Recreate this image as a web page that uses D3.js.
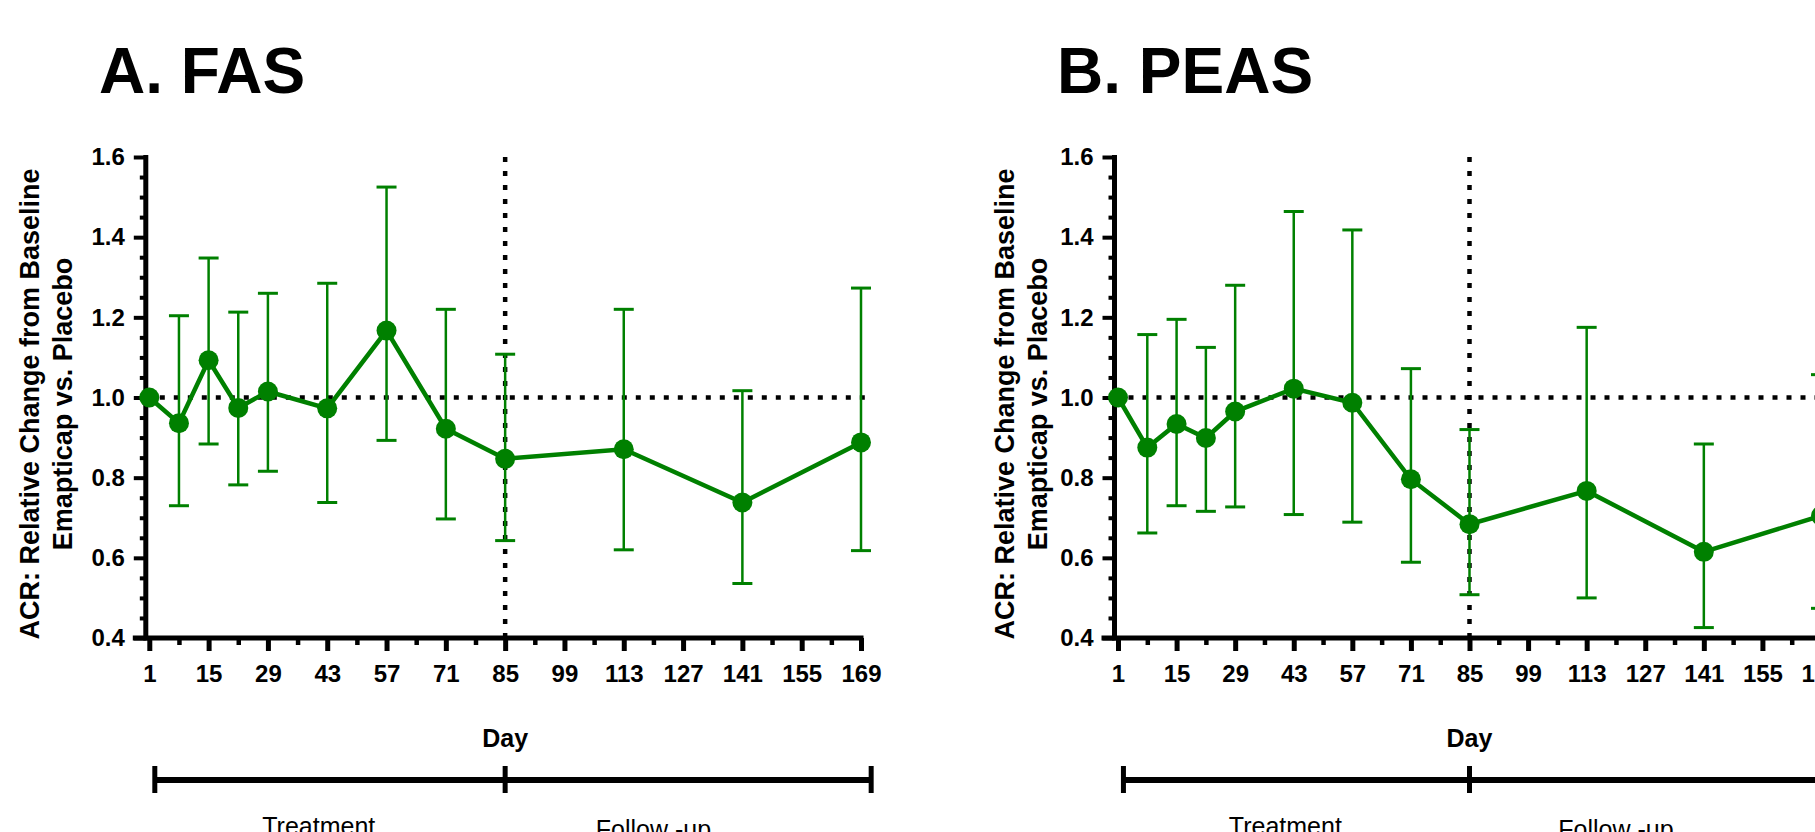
<!DOCTYPE html>
<html>
<head>
<meta charset="utf-8">
<script src="https://cdn.jsdelivr.net/npm/d3@7"></script>
<style>
body { margin: 0; background: #fff; }
svg { display: block; font-family: "Liberation Sans", Arial, sans-serif; }
</style>
</head>
<body>
<svg id="chart" width="1815" height="832"></svg>
<script>
// Study days where ACR was measured
var days = [1, 8, 15, 22, 29, 43, 57, 71, 85, 113, 141, 169];

// A. FAS - ratio emapticap vs placebo, with 95% CI
var fasMean  = [1.000, 0.936, 1.093, 0.974, 1.015, 0.973, 1.167, 0.922, 0.847, 0.871, 0.738, 0.888];
var fasLower = [null,  0.730, 0.884, 0.782, 0.816, 0.738, 0.893, 0.697, 0.643, 0.620, 0.536, 0.618];
var fasUpper = [null,  1.204, 1.348, 1.213, 1.260, 1.285, 1.525, 1.220, 1.108, 1.220, 1.017, 1.273];

// B. PEAS
var peasMean  = [1.000, 0.875, 0.934, 0.899, 0.965, 1.022, 0.987, 0.796, 0.684, 0.767, 0.615, 0.705];
var peasLower = [null,  0.662, 0.730, 0.716, 0.727, 0.708, 0.689, 0.589, 0.508, 0.500, 0.426, 0.474];
var peasUpper = [null,  1.157, 1.195, 1.125, 1.280, 1.464, 1.418, 1.072, 0.920, 1.175, 0.884, 1.057];

// Axis ticks
var dayTicks = [1, 15, 29, 43, 57, 71, 85, 99, 113, 127, 141, 155, 169];
var dayMinorTicks = [8, 22, 36, 50, 64, 78, 92, 106, 120, 134, 148, 162];
var yTicks = [0.4, 0.6, 0.8, 1.0, 1.2, 1.4, 1.6];
var yMinorTicks = [0.45, 0.5, 0.55, 0.65, 0.7, 0.75, 0.85, 0.9, 0.95, 1.05, 1.1, 1.15, 1.25, 1.3, 1.35, 1.45, 1.5, 1.55];

// Study phases under the x axis
var phaseNames = ["Treatment", "Follow -up"];
var phaseBounds = [2.3, 85, 171.4];
var phaseLabelDays = [41, 120];

var green = "#008000";
var svg = d3.select("#chart");

// one object per panel, just holding where it goes
var panels = [
  { title: "A. FAS", titleX: 99, mean: fasMean, lower: fasLower, upper: fasUpper,
    xRange: [149.3, 861], yTitleX: 39 },
  { title: "B. PEAS", titleX: 1057, mean: peasMean, lower: peasLower, upper: peasUpper,
    xRange: [1118, 1821], yTitleX: 1014 }
];

var y = d3.scaleLinear().domain([0.4, 1.6]).range([638, 157]);

function drawPanel(p) {
  var g = svg.append("g");
  var x = d3.scaleLinear().domain([1, 169]).range(p.xRange);
  var ax = p.xRange[0] - 3.5;   // the y axis sits a touch left of day 1
  var pts = days.map(function (d, i) {
    return { day: d, mean: p.mean[i], lo: p.lower[i], hi: p.upper[i] };
  });

  // Title
  g.append("text").attr("x", p.titleX).attr("y", 93)
    .style("font-size", "64px").style("font-weight", "bold")
    .text(p.title);

  // Y title, two rotated lines
  var yt = g.append("text")
    .attr("transform", "translate(" + p.yTitleX + ",404)rotate(-90)")
    .style("text-anchor", "middle").style("font-size", "27px").style("font-weight", "bold");
  yt.append("tspan").attr("x", 0).attr("y", 0).text("ACR: Relative Change from Baseline");
  yt.append("tspan").attr("x", 0).attr("y", 33).text("Emapticap vs. Placebo");

  // Dotted reference lines (ratio 1.0 and end of treatment)
  g.append("line")
    .attr("x1", ax).attr("x2", x(169) + 5)
    .attr("y1", y(1)).attr("y2", y(1))
    .attr("stroke", "#000").attr("stroke-width", 4.5).attr("stroke-dasharray", "5,9");
  g.append("line")
    .attr("x1", x(85)).attr("x2", x(85))
    .attr("y1", y(1.6)).attr("y2", y(0.4))
    .attr("stroke", "#000").attr("stroke-width", 4.5).attr("stroke-dasharray", "5,9");

  // Y axis: minor ticks first, then major ticks with labels
  g.append("g").attr("transform", "translate(" + ax + ",0)")
    .call(d3.axisLeft(y).tickValues(yMinorTicks).tickSize(6).tickFormat(""))
    .call(function (s) { s.select(".domain").remove(); })
    .selectAll(".tick line").attr("stroke-width", 4);
  var ya = g.append("g").attr("transform", "translate(" + ax + ",0)")
    .call(d3.axisLeft(y).tickValues(yTicks).tickSize(12).tickPadding(9).tickFormat(d3.format(".1f")))
    .call(function (s) { s.select(".domain").remove(); });
  ya.selectAll(".tick line").attr("stroke-width", 4);
  ya.selectAll("text").style("font-size", "24px").style("font-weight", "bold")
    .style("font-family", "Liberation Sans, Arial, sans-serif").attr("fill", "#000");

  // X axis
  g.append("g").attr("transform", "translate(0," + y(0.4) + ")")
    .call(d3.axisBottom(x).tickValues(dayMinorTicks).tickSize(7).tickFormat(""))
    .call(function (s) { s.select(".domain").remove(); })
    .selectAll(".tick line").attr("stroke-width", 4.5);
  var xa = g.append("g").attr("transform", "translate(0," + y(0.4) + ")")
    .call(d3.axisBottom(x).tickValues(dayTicks).tickSize(13).tickPadding(13.5))
    .call(function (s) { s.select(".domain").remove(); });
  xa.selectAll(".tick line").attr("stroke-width", 5);
  xa.selectAll("text").style("font-size", "24px").style("font-weight", "bold")
    .style("font-family", "Liberation Sans, Arial, sans-serif").attr("fill", "#000");

  // axis lines
  g.append("line").attr("x1", ax).attr("x2", ax)
    .attr("y1", y(1.6) - 2).attr("y2", y(0.4) + 2.5)
    .attr("stroke", "#000").attr("stroke-width", 5);
  g.append("line").attr("x1", ax - 13).attr("x2", x(169) + 2.5)
    .attr("y1", y(0.4)).attr("y2", y(0.4))
    .attr("stroke", "#000").attr("stroke-width", 5);

  // Error bars
  var eb = g.selectAll(".err").data(pts.filter(function (d) { return d.lo != null; }))
    .enter().append("g").attr("class", "err");
  eb.append("line")
    .attr("x1", function (d) { return x(d.day); }).attr("x2", function (d) { return x(d.day); })
    .attr("y1", function (d) { return y(d.lo); }).attr("y2", function (d) { return y(d.hi); })
    .attr("stroke", green).attr("stroke-width", 2.5);
  ["lo", "hi"].forEach(function (k) {
    eb.append("line")
      .attr("x1", function (d) { return x(d.day) - 10; }).attr("x2", function (d) { return x(d.day) + 10; })
      .attr("y1", function (d) { return y(d[k]); }).attr("y2", function (d) { return y(d[k]); })
      .attr("stroke", green).attr("stroke-width", 3);
  });

  // Mean line and markers
  g.append("path").datum(pts)
    .attr("d", d3.line().x(function (d) { return x(d.day); }).y(function (d) { return y(d.mean); }))
    .attr("fill", "none").attr("stroke", green).attr("stroke-width", 4.5);
  g.selectAll(".pt").data(pts).enter().append("circle")
    .attr("class", "pt")
    .attr("cx", function (d) { return x(d.day); }).attr("cy", function (d) { return y(d.mean); })
    .attr("r", 10).attr("fill", green);

  // "Day" label and phase bracket
  g.append("text").attr("x", x(85)).attr("y", 747)
    .style("text-anchor", "middle").style("font-size", "25px").style("font-weight", "bold")
    .text("Day");
  g.append("line").attr("x1", x(phaseBounds[0])).attr("x2", x(phaseBounds[2]))
    .attr("y1", 780).attr("y2", 780).attr("stroke", "#000").attr("stroke-width", 6);
  g.selectAll(".pb").data(phaseBounds).enter().append("line")
    .attr("class", "pb")
    .attr("x1", function (d) { return x(d); }).attr("x2", function (d) { return x(d); })
    .attr("y1", 766).attr("y2", 793)
    .attr("stroke", "#000").attr("stroke-width", 5);
  g.selectAll(".phase").data(phaseNames).enter().append("text")
    .attr("class", "phase")
    .attr("x", function (d, i) { return x(phaseLabelDays[i]); })
    .attr("y", function (d, i) { return 835 + i * 3; })
    .style("text-anchor", "middle").style("font-size", "25px")
    .text(function (d) { return d; });
}

panels.forEach(drawPanel);
</script>
</body>
</html>
